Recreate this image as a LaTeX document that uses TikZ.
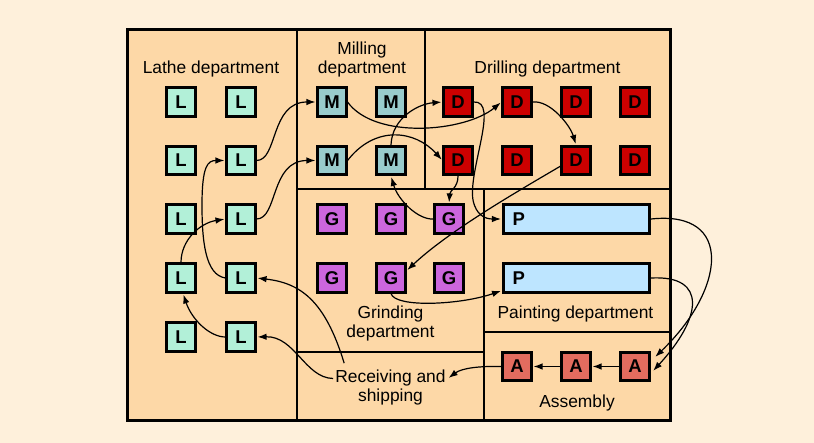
\documentclass[tikz,border=0pt]{standalone}
\usepackage{fontspec}
\setmainfont{Liberation Sans}
\usetikzlibrary{arrows.meta,calc}
\definecolor{cream}{HTML}{FEF0DB}
\definecolor{peach}{HTML}{FDD8A7}
\definecolor{lcol}{HTML}{B2F0D8}
\definecolor{mcol}{HTML}{99CCCC}
\definecolor{dcol}{HTML}{CC0000}
\definecolor{gcol}{HTML}{CC66DD}
\definecolor{pcol}{HTML}{BDE5FF}
\definecolor{acol}{HTML}{E36C5F}
\begin{document}
\begin{tikzpicture}[x=1pt,y=-1pt,
  machine/.style={draw=black, line width=2.6pt, minimum size=28.5pt, inner sep=0pt,
    font=\fontsize{18.5}{20}\selectfont\bfseries},
  lbox/.style={machine, fill=lcol},
  mbox/.style={machine, fill=mcol},
  dbox/.style={machine, fill=dcol},
  gbox/.style={machine, fill=gcol},
  abox/.style={machine, fill=acol},
  pbox/.style={machine, fill=pcol, minimum width=146.5pt, text width=128pt, align=left, inner xsep=9pt},
  lab/.style={anchor=base, inner sep=2pt, font=\fontsize{17.4}{20}\selectfont},
  flow/.style={line width=1.2pt, shorten >=1pt, -{Latex[length=9pt,width=6.5pt]}},
  wall/.style={line width=1.3pt}
]
\useasboundingbox[fill=cream] (0,0) rectangle (814,443);
\draw[line width=3pt, fill=peach] (127.5,29.7) rectangle (670.3,420.3);
\draw[wall] (297,29.7) -- (297,420.3);
\draw[wall] (425,29.7) -- (425,189);
\draw[wall] (297,189) -- (670.3,189);
\draw[wall] (484,189) -- (484,420.3);
\draw[wall] (297,352) -- (484,352);
\draw[wall] (484,332) -- (670.3,332);

% labels
\node[lab] (lathe) at (211,74) {Lathe department};
\node[lab] (mill1) at (362,54.5) {Milling};
\node[lab] (mill2) at (362,74) {department};
\node[lab] (drill) at (547.5,74) {Drilling department};
\node[lab] (grind1) at (390.5,319) {Grinding};
\node[lab] (grind2) at (390.5,338) {department};
\node[lab] (paint) at (575.5,319) {Painting department};
\node[lab] (recv1) at (390.5,383) {Receiving and};
\node[lab] (recv2) at (390.5,402) {shipping};
\node[lab] (asm) at (577,407) {Assembly};

% lathes
\node[lbox] (L11) at (181,102) {L};
\node[lbox] (L12) at (241,102) {L};
\node[lbox] (L21) at (181,160.5) {L};
\node[lbox] (L22) at (241,160.5) {L};
\node[lbox] (L31) at (181,219) {L};
\node[lbox] (L32) at (241,219) {L};
\node[lbox] (L41) at (181,278) {L};
\node[lbox] (L42) at (241,278) {L};
\node[lbox] (L51) at (181,337) {L};
\node[lbox] (L52) at (241,337) {L};
% milling
\node[mbox] (M11) at (332,102) {M};
\node[mbox] (M12) at (391,102) {M};
\node[mbox] (M21) at (332,160.5) {M};
\node[mbox] (M22) at (391,160.5) {M};
% drilling
\node[dbox] (D11) at (458,102) {D};
\node[dbox] (D12) at (517,102) {D};
\node[dbox] (D13) at (576,102) {D};
\node[dbox] (D14) at (635,102) {D};
\node[dbox] (D21) at (458,160.5) {D};
\node[dbox] (D22) at (517,160.5) {D};
\node[dbox] (D23) at (576,160.5) {D};
\node[dbox] (D24) at (635,160.5) {D};
% grinding
\node[gbox] (G11) at (332,219) {G};
\node[gbox] (G12) at (391,219) {G};
\node[gbox] (G13) at (449,219) {G};
\node[gbox] (G21) at (332,278) {G};
\node[gbox] (G22) at (391,278) {G};
\node[gbox] (G23) at (449,278) {G};
% painting
\node[pbox] (P1) at (576.5,219) {P};
\node[pbox] (P2) at (576.5,278) {P};
% assembly
\node[abox] (A1) at (517,366.5) {A};
\node[abox] (A2) at (576,366.5) {A};
\node[abox] (A3) at (635,366.5) {A};

% flows
\draw[flow] (L22.east) .. controls (278,160.5) and (270,102) .. (M11.west);
\draw[flow] (L32.east) .. controls (278,219) and (270,160.5) .. (M21.west);
\draw[flow] (M11.east) .. controls (375,140) and (465,132) .. (D12.west);
\draw[flow] (M21.east) .. controls (375,125) and (415,130) .. (D21.west);
\draw[flow] (M22.north) .. controls (392,118) and (418,104) .. (D11.west);
\draw[flow] (D11.east) .. controls (500,100) and (468,170) .. (473,200) .. controls (476,215) and (485,219) .. (P1.west);
\draw[flow] (D12.east) .. controls (550,100) and (570,125) .. (D23.north);
\draw[flow] (D23.200) .. controls (520,190) and (450,230) .. (G22.25);
\draw[flow] (D21.south) .. controls (458,188) and (450,190) .. (G13.north);
\draw[flow] (G13.west) .. controls (418,220) and (398,200) .. (M22.south);
\draw[flow] (G22.south) .. controls (395,308) and (460,305) .. ($(P2.south west)+(0,-3)$);
\draw[flow] (P1.east) .. controls (735,210) and (725,290) .. ($(A3.east)+(4,-9)$);
\draw[flow] (P2.east) .. controls (708,275) and (702,318) .. ($(A3.east)+(2,5)$);
\draw[flow] (A3.west) -- (A2.east);
\draw[flow] (A2.west) -- (A1.east);
\draw[flow] (A1.west) .. controls (480,366) and (462,368) .. (recv1.east);
\draw[flow] ($(recv1.north west)+(11,-5)$) .. controls (325,300) and (300,283) .. (L42.east);
\draw[flow] (recv1.west) .. controls (305,378) and (295,336) .. (L52.east);
\draw[flow] (L52.west) .. controls (210,337) and (192,320) .. ($(L41.south)+(2,0)$);
\draw[flow] (L41.north) .. controls (181,240) and (200,223) .. (L32.west);
\draw[flow] (L42.west) .. controls (205,275) and (202,240) .. (202,205) .. controls (202,165) and (208,160.5) .. (L22.west);
\end{tikzpicture}
\end{document}
